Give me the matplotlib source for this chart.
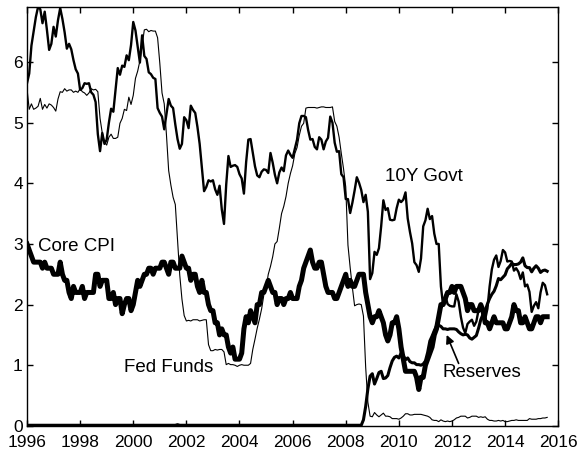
import numpy as np
import matplotlib
matplotlib.use("Agg")
import matplotlib.pyplot as plt

plt.rcParams['font.family'] = ['Liberation Sans', 'DejaVu Sans']

# monthly data, Jan 1996 - Aug 2015
start_year = 1996

# 10-year government bond yield (%)
govt_10y = [
    5.65, 5.81, 6.27, 6.51, 6.74, 6.91, 6.87, 6.64, 6.83, 6.53, 6.20, 6.30,  # 1996
    6.58, 6.42, 6.69, 6.89, 6.71, 6.49, 6.22, 6.30, 6.21, 6.03, 5.88, 5.81,  # 1997
    5.54, 5.57, 5.65, 5.64, 5.65, 5.50, 5.46, 5.34, 4.81, 4.53, 4.83, 4.65,  # 1998
    4.72, 5.00, 5.23, 5.18, 5.54, 5.90, 5.79, 5.94, 5.92, 6.11, 6.03, 6.28,  # 1999
    6.66, 6.52, 6.26, 5.99, 6.44, 6.10, 6.05, 5.83, 5.80, 5.74, 5.72, 5.24,  # 2000
    5.16, 5.10, 4.89, 5.14, 5.39, 5.28, 5.24, 4.97, 4.73, 4.57, 4.65, 5.09,  # 2001
    5.04, 4.91, 5.28, 5.21, 5.16, 4.93, 4.65, 4.26, 3.87, 3.94, 4.05, 4.03,  # 2002
    4.05, 3.90, 3.81, 3.96, 3.57, 3.33, 3.98, 4.45, 4.27, 4.29, 4.30, 4.27,  # 2003
    4.15, 4.08, 3.83, 4.35, 4.72, 4.73, 4.50, 4.28, 4.13, 4.10, 4.19, 4.23,  # 2004
    4.22, 4.17, 4.50, 4.34, 4.14, 4.00, 4.18, 4.26, 4.20, 4.46, 4.54, 4.47,  # 2005
    4.42, 4.57, 4.72, 4.99, 5.11, 5.11, 5.09, 4.88, 4.72, 4.73, 4.60, 4.56,  # 2006
    4.76, 4.72, 4.56, 4.69, 4.75, 5.10, 5.00, 4.67, 4.52, 4.53, 4.15, 4.10,  # 2007
    3.74, 3.74, 3.51, 3.68, 3.88, 4.10, 4.01, 3.89, 3.69, 3.81, 3.53, 2.42,  # 2008
    2.52, 2.87, 2.82, 2.93, 3.29, 3.72, 3.56, 3.59, 3.40, 3.39, 3.40, 3.59,  # 2009
    3.73, 3.69, 3.73, 3.85, 3.42, 3.20, 3.01, 2.70, 2.65, 2.54, 2.76, 3.29,  # 2010
    3.39, 3.58, 3.41, 3.46, 3.17, 3.00, 3.00, 2.30, 1.98, 2.15, 2.01, 1.98,  # 2011
    1.97, 1.97, 2.17, 2.05, 1.80, 1.62, 1.53, 1.68, 1.72, 1.75, 1.65, 1.72,  # 2012
    1.91, 1.98, 1.96, 1.76, 1.93, 2.30, 2.58, 2.74, 2.81, 2.62, 2.72, 2.90,  # 2013
    2.86, 2.71, 2.72, 2.71, 2.56, 2.60, 2.54, 2.42, 2.53, 2.30, 2.33, 2.21,  # 2014
    1.88, 1.98, 2.04, 1.94, 2.20, 2.36, 2.32, 2.17,                          # 2015
]

# effective fed funds rate (%)
fed_funds = [
    5.56, 5.22, 5.31, 5.22, 5.24, 5.27, 5.40, 5.22, 5.30, 5.24, 5.31, 5.29,
    5.25, 5.19, 5.39, 5.51, 5.50, 5.56, 5.52, 5.54, 5.54, 5.50, 5.52, 5.50,
    5.56, 5.51, 5.49, 5.45, 5.49, 5.56, 5.54, 5.55, 5.51, 5.07, 4.83, 4.68,
    4.63, 4.76, 4.81, 4.74, 4.74, 4.76, 4.99, 5.07, 5.22, 5.20, 5.42, 5.30,
    5.45, 5.73, 5.85, 6.02, 6.27, 6.53, 6.54, 6.50, 6.52, 6.51, 6.51, 6.40,
    5.98, 5.49, 5.31, 4.80, 4.21, 3.97, 3.77, 3.65, 3.07, 2.49, 2.09, 1.82,
    1.73, 1.74, 1.73, 1.75, 1.75, 1.75, 1.73, 1.74, 1.75, 1.75, 1.34, 1.24,
    1.24, 1.26, 1.25, 1.26, 1.26, 1.22, 1.01, 1.03, 1.01, 1.01, 1.00, 0.98,
    1.00, 1.01, 1.00, 1.00, 1.00, 1.03, 1.26, 1.43, 1.61, 1.76, 1.93, 2.16,
    2.28, 2.50, 2.63, 2.79, 3.00, 3.04, 3.26, 3.50, 3.62, 3.78, 4.00, 4.16,
    4.29, 4.49, 4.59, 4.79, 4.94, 4.99, 5.24, 5.25, 5.25, 5.25, 5.25, 5.24,
    5.25, 5.26, 5.26, 5.25, 5.25, 5.25, 5.26, 5.02, 4.94, 4.76, 4.49, 4.24,
    3.94, 2.98, 2.61, 2.28, 1.98, 2.00, 2.01, 2.00, 1.81, 0.97, 0.39, 0.16,
    0.15, 0.22, 0.18, 0.15, 0.18, 0.21, 0.16, 0.16, 0.15, 0.12, 0.12, 0.12,
    0.11, 0.13, 0.16, 0.20, 0.20, 0.18, 0.18, 0.19, 0.19, 0.19, 0.19, 0.18,
    0.17, 0.16, 0.14, 0.10, 0.09, 0.09, 0.07, 0.10, 0.08, 0.07, 0.08, 0.07,
    0.08, 0.10, 0.13, 0.14, 0.16, 0.16, 0.16, 0.13, 0.14, 0.16, 0.16, 0.16,
    0.14, 0.15, 0.14, 0.15, 0.11, 0.09, 0.09, 0.08, 0.08, 0.09, 0.08, 0.09,
    0.07, 0.07, 0.08, 0.09, 0.09, 0.10, 0.09, 0.09, 0.09, 0.09, 0.09, 0.12,
    0.11, 0.11, 0.11, 0.12, 0.12, 0.13, 0.13, 0.14,
]

# core CPI inflation, year over year (%)
core_cpi = [
    3.0, 2.9, 2.8, 2.7, 2.7, 2.7, 2.7, 2.6, 2.7, 2.6, 2.6, 2.6,
    2.5, 2.5, 2.5, 2.7, 2.5, 2.4, 2.4, 2.2, 2.1, 2.3, 2.2, 2.2,
    2.2, 2.3, 2.1, 2.2, 2.2, 2.2, 2.2, 2.5, 2.5, 2.3, 2.4, 2.4,
    2.4, 2.1, 2.1, 2.2, 2.0, 2.1, 2.1, 1.85, 2.0, 2.1, 2.1, 1.9,
    2.0, 2.2, 2.4, 2.3, 2.4, 2.5, 2.5, 2.6, 2.6, 2.5, 2.6, 2.6,
    2.6, 2.7, 2.7, 2.6, 2.5, 2.7, 2.7, 2.6, 2.6, 2.6, 2.8, 2.7,
    2.6, 2.6, 2.4, 2.5, 2.5, 2.3, 2.2, 2.4, 2.2, 2.2, 2.0, 1.9,
    1.9, 1.7, 1.7, 1.5, 1.6, 1.5, 1.5, 1.3, 1.2, 1.3, 1.1, 1.1,
    1.1, 1.2, 1.6, 1.8, 1.7, 1.9, 1.8, 1.7, 2.0, 2.0, 2.2, 2.2,
    2.3, 2.4, 2.3, 2.2, 2.2, 2.0, 2.1, 2.1, 2.0, 2.1, 2.1, 2.2,
    2.1, 2.1, 2.1, 2.3, 2.4, 2.6, 2.7, 2.8, 2.9, 2.7, 2.6, 2.6,
    2.7, 2.7, 2.5, 2.3, 2.2, 2.2, 2.2, 2.1, 2.1, 2.2, 2.3, 2.4,
    2.5, 2.3, 2.4, 2.3, 2.3, 2.4, 2.5, 2.5, 2.5, 2.2, 2.0, 1.8,
    1.7, 1.8, 1.8, 1.9, 1.8, 1.7, 1.5, 1.4, 1.5, 1.7, 1.7, 1.8,
    1.6, 1.3, 1.1, 0.9, 0.9, 0.9, 0.9, 0.9, 0.8, 0.6, 0.8, 0.8,
    1.0, 1.1, 1.2, 1.3, 1.5, 1.6, 1.8, 2.0, 2.0, 2.1, 2.2, 2.2,
    2.3, 2.2, 2.3, 2.3, 2.3, 2.2, 2.1, 1.9, 2.0, 2.0, 1.9, 1.9,
    1.9, 2.0, 1.9, 1.7, 1.7, 1.6, 1.7, 1.8, 1.7, 1.7, 1.7, 1.7,
    1.6, 1.6, 1.7, 1.8, 2.0, 1.9, 1.9, 1.7, 1.7, 1.8, 1.7, 1.6,
    1.6, 1.7, 1.8, 1.8, 1.7, 1.8, 1.8, 1.8,
]

# bank reserves (trillions of dollars)
reserves = [
    0.01, 0.01, 0.01, 0.01, 0.01, 0.01, 0.01, 0.01, 0.01, 0.01, 0.01, 0.01,
    0.01, 0.01, 0.01, 0.01, 0.01, 0.01, 0.01, 0.01, 0.01, 0.01, 0.01, 0.01,
    0.01, 0.01, 0.01, 0.01, 0.01, 0.01, 0.01, 0.01, 0.01, 0.01, 0.01, 0.01,
    0.01, 0.01, 0.01, 0.01, 0.01, 0.01, 0.01, 0.01, 0.01, 0.01, 0.01, 0.01,
    0.01, 0.01, 0.01, 0.01, 0.01, 0.01, 0.01, 0.01, 0.01, 0.01, 0.01, 0.01,
    0.01, 0.01, 0.01, 0.01, 0.01, 0.01, 0.01, 0.01, 0.02, 0.01, 0.01, 0.01,
    0.01, 0.01, 0.01, 0.01, 0.01, 0.01, 0.01, 0.01, 0.01, 0.01, 0.01, 0.01,
    0.01, 0.01, 0.01, 0.01, 0.01, 0.01, 0.01, 0.01, 0.01, 0.01, 0.01, 0.01,
    0.01, 0.01, 0.01, 0.01, 0.01, 0.01, 0.01, 0.01, 0.01, 0.01, 0.01, 0.01,
    0.01, 0.01, 0.01, 0.01, 0.01, 0.01, 0.01, 0.01, 0.01, 0.01, 0.01, 0.01,
    0.01, 0.01, 0.01, 0.01, 0.01, 0.01, 0.01, 0.01, 0.01, 0.01, 0.01, 0.01,
    0.01, 0.01, 0.01, 0.01, 0.01, 0.01, 0.01, 0.01, 0.01, 0.01, 0.01, 0.01,
    0.01, 0.01, 0.01, 0.01, 0.01, 0.01, 0.01, 0.01, 0.10, 0.32, 0.61, 0.82,
    0.86, 0.69, 0.78, 0.88, 0.90, 0.78, 0.79, 0.83, 0.96, 1.07, 1.13, 1.15,
    1.12, 1.20, 1.16, 1.09, 1.12, 1.06, 1.04, 1.04, 1.01, 1.01, 1.00, 1.02,
    1.07, 1.21, 1.40, 1.48, 1.57, 1.65, 1.66, 1.64, 1.60, 1.60, 1.59, 1.60,
    1.60, 1.60, 1.59, 1.55, 1.52, 1.50, 1.51, 1.50, 1.45, 1.43, 1.46, 1.49,
    1.61, 1.75, 1.84, 1.90, 2.01, 2.10, 2.17, 2.22, 2.31, 2.43, 2.41, 2.45,
    2.49, 2.59, 2.63, 2.68, 2.66, 2.66, 2.67, 2.70, 2.77, 2.64, 2.61, 2.61,
    2.54, 2.60, 2.64, 2.60, 2.53, 2.56, 2.57, 2.55,
]

x_ticks = list(range(1996, 2017, 2))
y_ticks = [0, 1, 2, 3, 4, 5, 6]

t = start_year + np.arange(len(govt_10y)) / 12.0

fig = plt.figure(figsize=(5.87, 4.55), dpi=100)
ax = fig.add_axes([0.046, 0.064, 0.905, 0.921])

ax.plot(t, fed_funds, color='black', lw=0.8)
ax.plot(t, govt_10y, color='black', lw=1.7)
ax.plot(t, reserves, color='black', lw=2.2)
ax.plot(t, core_cpi, color='black', lw=3.6)

ax.set_xlim(1996, 2016)
ax.set_ylim(0, max(govt_10y))
ax.set_xticks(x_ticks)
ax.set_yticks(y_ticks)
ax.tick_params(direction='in', top=True, right=True, length=4, width=1,
               labelsize=12.5)
ax.tick_params(axis='x', pad=6.5)
ax.tick_params(axis='y', pad=3)
for s in ax.spines.values():
    s.set_linewidth(1)

# series labels
ax.text(1996.42, 2.96, 'Core CPI', fontsize=13.5, va='center', ha='left')
ax.text(1999.66, 0.96, 'Fed Funds', fontsize=13.5, va='center', ha='left')
ax.text(2009.47, 4.12, '10Y Govt', fontsize=13.5, va='center', ha='left')
ax.text(2011.66, 0.88, 'Reserves', fontsize=13.5, va='center', ha='left')
ax.annotate('', xy=(2011.8, 1.50), xytext=(2012.25, 1.03),
            arrowprops=dict(arrowstyle='-|>', color='black', lw=1.2,
                            mutation_scale=12, shrinkA=0, shrinkB=0))

fig.savefig('out.png', dpi=100)
